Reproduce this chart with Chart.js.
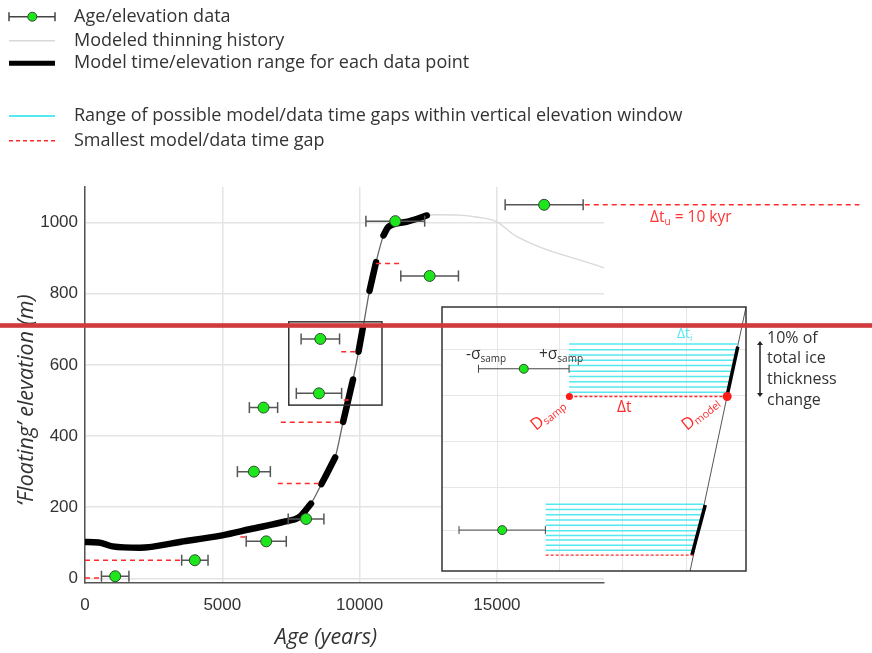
<!DOCTYPE html>
<html lang="en">
  <head>
    <title>thinning-history</title>
    <meta charset="utf-8" />
    <script src="https://cdn.jsdelivr.net/npm/chart.js@4.4.9/dist/chart.umd.min.js"></script>
    <style>
      body { margin: 0; padding: 0; background: #fff; }
      #wrap { position: relative; width: 872px; height: 653px; }
      #wrap canvas { position: absolute; left: 0; top: 0; }
    </style>
  </head>

  <body>
    <div id="wrap">
      <canvas id="main" width="872" height="653"></canvas>
      <canvas id="inset" width="872" height="653"></canvas>
    </div>

    <script>
      // samples (age in years, elevation in m, +/- age error)
      const sampleAge = [1100, 4000, 6600, 8050, 6150, 6500, 8520, 8570, 11300, 12550, 16720];
      const sampleElev = [6, 51, 104, 167, 300, 480, 520, 673, 1004, 850, 1050];
      const sampleErr = [500, 480, 730, 650, 600, 515, 825, 700, 1070, 1050, 1420];

      // modeled thinning history
      const modelAge = [0, 500, 1000, 2000, 3500, 5000, 6000, 7300, 7800, 8230, 8610, 8800, 9110, 9400, 9780,
        10150, 10360, 10600, 10870, 11050, 11700, 12450, 12800, 13650, 14300, 15000, 15650, 18900];
      const modelElev = [102, 101, 90, 86, 103, 121, 138, 160, 172, 210, 265, 293, 340, 440, 566,
        716, 808, 889, 964, 988, 1002, 1020, 1022, 1021, 1015, 1002, 964, 873];
      const modelDarkUntil = 12450;

      // model time/elevation range for each data point
      const rangeSegments = [
        [[0, 102], [500, 101], [1000, 90], [2000, 86], [3500, 103], [5000, 121], [6000, 138], [7300, 160], [7800, 172], [8230, 210]],
        [[8610, 265], [8800, 293], [9110, 340]],
        [[9400, 440], [9760, 559]],
        [[9960, 637], [10120, 705]],
        [[10360, 808], [10600, 889]],
        [[10870, 964], [11050, 988], [11700, 1002], [12450, 1020]],
      ];

      // smallest model/data time gap
      const gapStart = [0, 0, 5660, 7020, 7130, 9420, 9330, 10600, 18200];
      const gapEnd = [545, 3480, 5870, 8610, 9400, 9600, 9960, 11480, 28200];
      const gapElev = [1, 51, 116, 267, 439, 501, 637, 885, 1050];

      // zoom box on the main axes
      const boxAge = [7420, 10815];
      const boxElev = [487, 721];

      const xTicks = [0, 5000, 10000, 15000];
      const yTicks = [0, 200, 400, 600, 800, 1000];

      // inset schematic (arbitrary 0-100 units)
      const insetModelX = [81.6, 100];
      const insetModelY = [0, 100];
      const insetRangeSegments = [
        [[82.2, 6.0], [86.6, 25.0]],
        [[93.8, 66.5], [97.3, 85.0]],
      ];
      const insetSampleX = [26.9, 19.8];
      const insetSampleY = [76.6, 15.5];
      const insetSampleErr = [14.9, 14.2];
      const insetGapUpperY = [86.0, 83.8, 81.8, 79.8, 77.8, 75.7, 73.7, 71.7, 69.7, 67.7];
      const insetGapUpperEnd = [97.4, 97.0, 96.6, 96.3, 95.9, 95.5, 95.2, 94.8, 94.4, 94.1];
      const insetGapUpperStart = 41.8;
      const insetGapLowerY = [25.3, 23.3, 21.3, 19.3, 17.3, 15.2, 13.4, 11.7, 9.8, 7.9];
      const insetGapLowerEnd = [86.3, 85.9, 85.5, 85.2, 84.8, 84.4, 84.1, 83.8, 83.4, 83.1];
      const insetGapLowerStart = 34.1;
      const insetMinGapStart = [41.9, 34.1];
      const insetMinGapEnd = [93.8, 82.7];
      const insetMinGapY = [66.1, 6.0];
      const insetDotX = [41.9, 93.8];
      const insetDotY = [66.1, 66.1];
      const insetDotR = [3.5, 4.5];
      const insetGridX = [18.1, 38.5, 59.3, 80.5];
      const insetGridY = [15.5, 31.8, 48.9, 66.3, 83.8];

      //

      const GREEN = "#1de61d";
      const RED = "#ff2b2b";
      const CYAN = "#55e8f0";
      const SANS = '"Open Sans", "Noto Sans", sans-serif';

      function segmentsToPoints(segs) {
        const out = [];
        segs.forEach((seg) => {
          seg.forEach(([x, y]) => out.push({ x, y }));
          out.push({ x: seg[seg.length - 1][0], y: null });
        });
        return out;
      }

      function barsToPoints(starts, ends, ys) {
        const out = [];
        ys.forEach((y, i) => {
          out.push({ x: starts[i], y }, { x: ends[i], y }, { x: ends[i], y: null });
        });
        return out;
      }

      function drawRich(ctx, parts, x, y, color) {
        ctx.save();
        ctx.fillStyle = color;
        ctx.textBaseline = "alphabetic";
        let cx = x;
        for (const [text, size, dy] of parts) {
          ctx.font = `${size}px ${SANS}`;
          ctx.fillText(text, cx, y + dy);
          cx += ctx.measureText(text).width;
        }
        ctx.restore();
      }

      function drawLegend(ctx) {
        ctx.save();
        const x0 = 9, x1 = 55, tx = 74;
        const rows = [16.7, 40.7, 63.3, 116, 140.7];
        // error bar symbol
        ctx.strokeStyle = "#444";
        ctx.lineWidth = 1.5;
        ctx.beginPath();
        ctx.moveTo(x0, rows[0]); ctx.lineTo(x1, rows[0]);
        ctx.moveTo(x0, rows[0] - 4.5); ctx.lineTo(x0, rows[0] + 4.5);
        ctx.moveTo(x1, rows[0] - 4.5); ctx.lineTo(x1, rows[0] + 4.5);
        ctx.stroke();
        ctx.fillStyle = GREEN;
        ctx.strokeStyle = "#2d4d2d";
        ctx.lineWidth = 1;
        ctx.beginPath();
        ctx.arc(32.3, rows[0], 4.5, 0, Math.PI * 2);
        ctx.fill(); ctx.stroke();
        // model line
        ctx.strokeStyle = "#d9d9d9";
        ctx.lineWidth = 1.5;
        ctx.beginPath(); ctx.moveTo(x0, rows[1]); ctx.lineTo(x1, rows[1]); ctx.stroke();
        // range
        ctx.strokeStyle = "#000";
        ctx.lineWidth = 5;
        ctx.beginPath(); ctx.moveTo(x0, rows[2]); ctx.lineTo(x1, rows[2]); ctx.stroke();
        // cyan
        ctx.strokeStyle = CYAN;
        ctx.lineWidth = 2;
        ctx.beginPath(); ctx.moveTo(x0, rows[3]); ctx.lineTo(x1, rows[3]); ctx.stroke();
        // red dashed
        ctx.strokeStyle = RED;
        ctx.lineWidth = 1.5;
        ctx.setLineDash([4, 3]);
        ctx.beginPath(); ctx.moveTo(x0, rows[4]); ctx.lineTo(x1, rows[4]); ctx.stroke();
        ctx.setLineDash([]);

        const labels = [
          "Age/elevation data",
          "Modeled thinning history",
          "Model time/elevation range for each data point",
          "Range of possible model/data time gaps within vertical elevation window",
          "Smallest model/data time gap",
        ];
        ctx.fillStyle = "#333";
        ctx.font = `18px ${SANS}`;
        ctx.textBaseline = "middle";
        labels.forEach((t, i) => ctx.fillText(t, tx, rows[i]));
        ctx.restore();
      }

      const mainDecor = {
        id: "main_decor",
        afterDatasetsDraw(chart) {
          const { ctx, scales: { x, y } } = chart;
          ctx.save();
          ctx.strokeStyle = "#333";
          ctx.lineWidth = 1.5;
          const bx0 = x.getPixelForValue(boxAge[0]);
          const bx1 = x.getPixelForValue(boxAge[1]);
          const by0 = y.getPixelForValue(boxElev[1]);
          const by1 = y.getPixelForValue(boxElev[0]);
          ctx.strokeRect(bx0, by0, bx1 - bx0, by1 - by0);
          ctx.restore();
        },
        afterDraw(chart) {
          const { ctx } = chart;
          drawLegend(ctx);
          drawRich(ctx, [["Δt", 15.5, 0], ["u", 10, 3], [" = 10 kyr", 15.5, 0]], 650, 222, "#ff3535");
          ctx.save();
          ctx.fillStyle = "#333";
          ctx.font = `italic 21.5px ${SANS}`;
          ctx.textAlign = "center";
          ctx.textBaseline = "middle";
          ctx.fillText("Age (years)", 326, 638);
          ctx.translate(27, 400);
          ctx.rotate(-Math.PI / 2);
          ctx.fillText("‘Floating’ elevation (m)", 0, 0);
          ctx.restore();
        },
      };

      const tickFont = { family: '"Liberation Sans", Arial, sans-serif', size: 17 };

      new Chart(document.getElementById("main"), {
        type: "line",
        data: {
          datasets: [
            {
              label: "Age/elevation data",
              data: sampleAge.map((a, i) => ({ x: a, y: sampleElev[i] })),
              showLine: false,
              pointRadius: 5.5,
              pointBackgroundColor: GREEN,
              pointBorderColor: "#2d4d2d",
              pointBorderWidth: 1,
              order: 0,
            },
            {
              label: "error bars",
              data: barsToPoints(
                sampleAge.map((a, i) => a - sampleErr[i]),
                sampleAge.map((a, i) => a + sampleErr[i]),
                sampleElev
              ),
              borderColor: "#555",
              borderWidth: 1.5,
              pointStyle: "line",
              rotation: 90,
              pointRadius: 5.5,
              pointBorderColor: "#555",
              pointBorderWidth: 1.5,
              order: 1,
            },
            {
              label: "Smallest model/data time gap",
              data: barsToPoints(gapStart, gapEnd, gapElev),
              borderColor: RED,
              borderWidth: 1.5,
              borderDash: [5, 4],
              pointRadius: 0,
              clip: false,
              order: 2,
            },
            {
              label: "Model time/elevation range for each data point",
              data: segmentsToPoints(rangeSegments),
              borderColor: "#000",
              borderWidth: 6.5,
              borderCapStyle: "round",
              borderJoinStyle: "round",
              cubicInterpolationMode: "monotone",
              pointRadius: 0,
              order: 3,
            },
            {
              label: "Modeled thinning history",
              data: modelAge.map((a, i) => ({ x: a, y: modelElev[i] })),
              borderWidth: 1.3,
              pointRadius: 0,
              cubicInterpolationMode: "monotone",
              segment: {
                borderColor: (c) => (c.p0.parsed.x >= modelDarkUntil ? "#d9d9d9" : "#666"),
              },
              order: 4,
            },
          ],
        },
        plugins: [mainDecor],
        options: {
          responsive: false,
          animation: false,
          events: [],
          layout: { padding: { left: 0, top: 187, right: 268, bottom: 0 } },
          plugins: { legend: { display: false }, tooltip: { enabled: false } },
          scales: {
            x: {
              type: "linear",
              min: 0,
              max: 18900,
              afterBuildTicks: (s) => { s.ticks = xTicks.map((v) => ({ value: v })); },
              afterFit: (s) => { s.height = 70; },
              ticks: { font: tickFont, color: "#333", padding: 12, maxRotation: 0, callback: (v) => String(v) },
              grid: { color: "#e4e4e4", lineWidth: 1.5, drawTicks: false },
              border: { color: "#555", width: 1.5 },
            },
            y: {
              type: "linear",
              min: -13,
              max: 1100,
              afterBuildTicks: (s) => { s.ticks = yTicks.map((v) => ({ value: v })); },
              afterFit: (s) => { s.width = 85; },
              ticks: { font: tickFont, color: "#333", padding: 7, callback: (v) => String(v) },
              grid: { color: "#e4e4e4", lineWidth: 1.5, drawTicks: false },
              border: { color: "#555", width: 1.5 },
            },
          },
        },
      });

      //

      const insetDecor = {
        id: "inset_decor",
        beforeDraw(chart) {
          const { ctx, chartArea: a } = chart;
          ctx.save();
          ctx.fillStyle = "#fff";
          ctx.fillRect(a.left, a.top, a.width, a.height);
          ctx.restore();
        },
        afterDraw(chart) {
          const { ctx, chartArea: a } = chart;
          ctx.save();
          ctx.strokeStyle = "#333";
          ctx.lineWidth = 1.5;
          ctx.strokeRect(a.left, a.top, a.width, a.height);

          drawRich(ctx, [["-σ", 15.5, 0], ["samp", 10, 3]], 466, 359, "#333");
          drawRich(ctx, [["+σ", 15.5, 0], ["samp", 10, 3]], 539, 359, "#333");
          drawRich(ctx, [["Δt", 14, 0], ["i", 9, 3]], 677, 338, CYAN);
          drawRich(ctx, [["Δt", 15.5, 0]], 617, 412, RED);
          for (const [px, py, sub] of [[536, 431, "samp"], [687, 431, "model"]]) {
            ctx.save();
            ctx.translate(px, py);
            ctx.rotate(-0.68);
            drawRich(ctx, [["D", 16.5, 0], [sub, 10.5, 2]], 0, 0, RED);
            ctx.restore();
          }

          // 10% arrow and note
          ctx.strokeStyle = "#222";
          ctx.fillStyle = "#222";
          ctx.lineWidth = 1.5;
          ctx.beginPath();
          ctx.moveTo(760, 344); ctx.lineTo(760, 394);
          ctx.stroke();
          for (const [ay, dir] of [[343, -1], [395, 1]]) {
            ctx.beginPath();
            ctx.moveTo(760, ay + dir * 2);
            ctx.lineTo(757, ay - dir * 2);
            ctx.lineTo(763, ay - dir * 2);
            ctx.closePath();
            ctx.fill();
          }
          ctx.fillStyle = "#333";
          ctx.font = `16px ${SANS}`;
          ctx.textBaseline = "middle";
          ["10% of", "total ice", "thickness", "change"].forEach((t, i) =>
            ctx.fillText(t, 767, 338 + i * 20.7)
          );

          // red rule across the figure
          ctx.fillStyle = "#d03a3c";
          ctx.fillRect(0, 323.2, chart.width, 4.6);
          ctx.restore();
        },
      };

      const insetGaps = [];
      insetGapUpperY.forEach((y, i) => insetGaps.push({ x: insetGapUpperStart, y }, { x: insetGapUpperEnd[i], y }, { x: insetGapUpperEnd[i], y: null }));
      insetGapLowerY.forEach((y, i) => insetGaps.push({ x: insetGapLowerStart, y }, { x: insetGapLowerEnd[i], y }, { x: insetGapLowerEnd[i], y: null }));

      new Chart(document.getElementById("inset"), {
        type: "line",
        data: {
          datasets: [
            {
              label: "samples",
              data: insetSampleX.map((v, i) => ({ x: v, y: insetSampleY[i] })),
              showLine: false,
              pointRadius: 4.5,
              pointBackgroundColor: GREEN,
              pointBorderColor: "#2d4d2d",
              pointBorderWidth: 1,
              order: 0,
            },
            {
              label: "end points",
              data: insetDotX.map((v, i) => ({ x: v, y: insetDotY[i] })),
              showLine: false,
              pointRadius: insetDotR,
              pointBackgroundColor: "#ff1a1a",
              pointBorderColor: "#ff1a1a",
              pointBorderWidth: 0,
              order: 0,
            },
            {
              label: "error bars",
              data: barsToPoints(
                insetSampleX.map((v, i) => v - insetSampleErr[i]),
                insetSampleX.map((v, i) => v + insetSampleErr[i]),
                insetSampleY
              ),
              borderColor: "#444",
              borderWidth: 1,
              pointStyle: "line",
              rotation: 90,
              pointRadius: 4,
              pointBorderColor: "#444",
              pointBorderWidth: 1,
              order: 1,
            },
            {
              label: "min gap",
              data: barsToPoints(insetMinGapStart, insetMinGapEnd, insetMinGapY),
              borderColor: RED,
              borderWidth: 1.3,
              borderDash: [3, 2],
              pointRadius: 0,
              order: 2,
            },
            {
              label: "gap range",
              data: insetGaps,
              borderColor: CYAN,
              borderWidth: 1.5,
              pointRadius: 0,
              order: 3,
            },
            {
              label: "range",
              data: segmentsToPoints(insetRangeSegments),
              borderColor: "#000",
              borderWidth: 3.5,
              pointRadius: 0,
              order: 2,
            },
            {
              label: "model",
              data: insetModelX.map((v, i) => ({ x: v, y: insetModelY[i] })),
              borderColor: "#555",
              borderWidth: 1,
              pointRadius: 0,
              order: 5,
            },
          ],
        },
        plugins: [insetDecor],
        options: {
          responsive: false,
          animation: false,
          events: [],
          layout: { padding: { left: 442, top: 307, right: 126, bottom: 82 } },
          plugins: { legend: { display: false }, tooltip: { enabled: false } },
          scales: {
            x: {
              type: "linear",
              min: 0,
              max: 100,
              afterBuildTicks: (s) => { s.ticks = insetGridX.map((v) => ({ value: v })); },
              afterFit: (s) => { s.height = 0; },
              ticks: { display: false },
              grid: { color: "#e6e6e6", lineWidth: 1, drawTicks: false },
              border: { display: false },
            },
            y: {
              type: "linear",
              min: 0,
              max: 100,
              afterBuildTicks: (s) => { s.ticks = insetGridY.map((v) => ({ value: v })); },
              afterFit: (s) => { s.width = 0; },
              ticks: { display: false },
              grid: { color: "#e6e6e6", lineWidth: 1, drawTicks: false },
              border: { display: false },
            },
          },
        },
      });
    </script>
  </body>
</html>
